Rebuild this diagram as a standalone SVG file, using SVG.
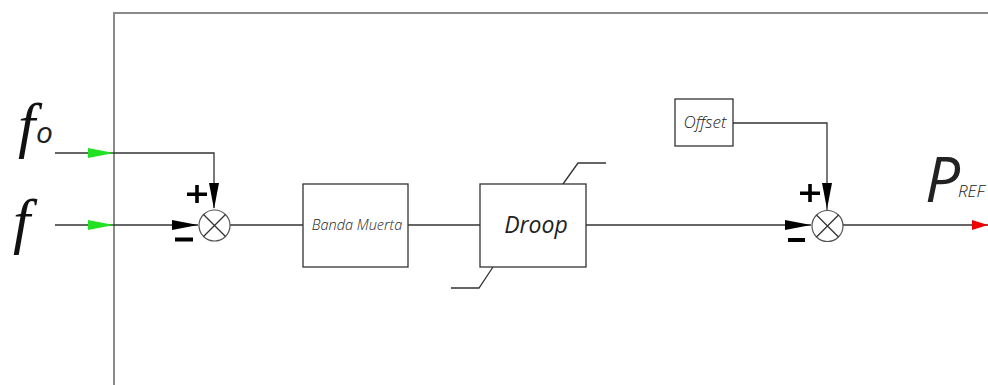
<svg xmlns="http://www.w3.org/2000/svg" width="988" height="385" viewBox="0 0 988 385">
<style>
.ln{fill:none;stroke:#333;stroke-width:1.3}
.box{fill:#fff;stroke:#333;stroke-width:1.3}
.frame{fill:none;stroke:#8a8a8a;stroke-width:2}
.sum{fill:#fff;stroke:#555;stroke-width:1.2}
.lbl{font-family:"Open Sans","DejaVu Sans",sans-serif;font-style:italic;font-weight:300;fill:#222}
.reg{font-weight:400}
.big{font-family:"Liberation Serif",serif;font-style:italic;fill:#111}
.sign{fill:#000}
</style>
<rect width="988" height="385" fill="#fff"/>
<path class="frame" d="M114,385 V13 H988"/>
<g id="connectors">
<path class="ln" d="M55,153 H214 V208"/>
<path class="ln" d="M55,225 H198"/>
<path class="ln" d="M230,225 H303"/>
<path class="ln" d="M408,225 H480"/>
<path class="ln" d="M586,225 H811"/>
<path class="ln" d="M733,123 H827 V210"/>
<path class="ln" d="M843,225 H988"/>
<path class="ln" d="M563,184 L578,163 H606"/>
<path class="ln" d="M493,267 L479,288 H451"/>
<polygon fill="#22e022" points="88,148 114,153 88,158"/>
<polygon fill="#22e022" points="88,220 114,225 88,230"/>
<polygon fill="#000" points="172,220 198,225 172,230"/>
<polygon fill="#000" points="209,183 219,183 214,209"/>
<polygon fill="#000" points="785,220 811,225 785,230"/>
<polygon fill="#000" points="822,183 832,183 827,209"/>
<polygon fill="#f00000" points="972,220 988,225 972,230"/>
</g>
<g id="label-f0"><text class="big" x="18" y="146" font-size="62">f</text><text class="lbl reg" x="36" y="143" font-size="30" font-style="normal">o</text></g>
<g id="label-f"><text class="big" x="13" y="242" font-size="62">f</text></g>
<g id="sum1">
<circle class="sum" cx="214.5" cy="225.5" r="15.5"/>
<path class="ln" stroke="#555" d="M203.5,214.5 L225.5,236.5 M225.5,214.5 L203.5,236.5"/>
<path class="sign" d="M187,192.5 h20 v3.5 h-20 z M195.2,185 h3.6 v18 h-3.6 z"/>
<rect class="sign" x="175" y="237.5" width="18" height="4"/>
</g>
<g id="banda-muerta"><rect class="box" x="303" y="184" width="105" height="83"/><text class="lbl" x="357" y="230" font-size="14.5" text-anchor="middle">Banda Muerta</text></g>
<g id="droop"><rect class="box" x="480" y="184" width="106" height="83"/><text class="lbl reg" x="536" y="233" font-size="23" text-anchor="middle">Droop</text></g>
<g id="offset"><rect class="box" x="675" y="99" width="58" height="47"/><text class="lbl" x="705" y="128" font-size="17" text-anchor="middle">Offset</text></g>
<g id="sum2">
<circle class="sum" cx="827.5" cy="226" r="15.5"/>
<path class="ln" stroke="#555" d="M816.5,215 L838.5,237 M838.5,215 L816.5,237"/>
<path class="sign" d="M800,191.5 h20 v3.5 h-20 z M808.2,184 h3.6 v18 h-3.6 z"/>
<rect class="sign" x="788" y="238" width="17" height="4"/>
</g>
<g id="label-pref"><text class="lbl reg" x="925" y="202" font-size="62" fill="#000">P</text><text class="lbl" x="958" y="197" font-size="17">REF</text></g>
</svg>
